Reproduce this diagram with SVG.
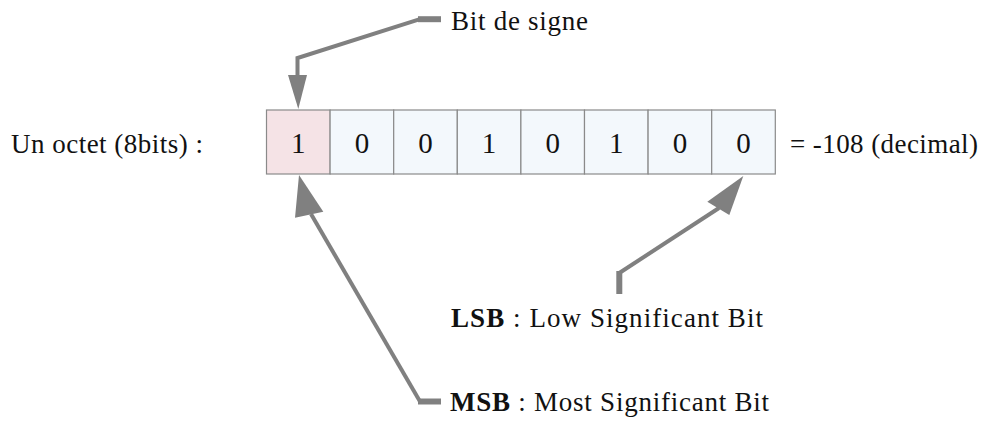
<svg xmlns="http://www.w3.org/2000/svg" width="982" height="421" viewBox="0 0 982 421">
  <style>
    .lbl { font-family: "Liberation Serif", "Times New Roman", serif; font-size: 27px; fill: #111; }
    .bit { font-family: "Liberation Serif", "Times New Roman", serif; font-size: 29px; fill: #111; text-anchor: middle; }
    .cell { fill: #f3f8fc; stroke: #8a8a8a; stroke-width: 1.2; }
    .sign { fill: #f5e3e6; }
    .wire { fill: none; stroke: #808080; stroke-width: 4; stroke-linejoin: miter; }
    .stub { fill: none; stroke: #808080; stroke-width: 6; }
    .head { fill: #808080; }
  </style>
  <rect width="982" height="421" fill="#ffffff"/>

  <!-- byte cells -->
  <g id="byte">
    <g id="bit7"><rect class="cell sign" x="266.5" y="110" width="63.6" height="64"/><text class="bit" x="298.3" y="153">1</text></g>
    <g id="bit6"><rect class="cell" x="330.1" y="110" width="63.6" height="64"/><text class="bit" x="361.9" y="153">0</text></g>
    <g id="bit5"><rect class="cell" x="393.7" y="110" width="63.6" height="64"/><text class="bit" x="425.5" y="153">0</text></g>
    <g id="bit4"><rect class="cell" x="457.3" y="110" width="63.6" height="64"/><text class="bit" x="489.1" y="153">1</text></g>
    <g id="bit3"><rect class="cell" x="520.9" y="110" width="63.6" height="64"/><text class="bit" x="552.7" y="153">0</text></g>
    <g id="bit2"><rect class="cell" x="584.5" y="110" width="63.6" height="64"/><text class="bit" x="616.3" y="153">1</text></g>
    <g id="bit1"><rect class="cell" x="648.1" y="110" width="63.6" height="64"/><text class="bit" x="679.9" y="153">0</text></g>
    <g id="bit0"><rect class="cell" x="711.7" y="110" width="63.6" height="64"/><text class="bit" x="743.5" y="153">0</text></g>
  </g>

  <!-- labels -->
  <g id="label-octet"><text class="lbl" x="11" y="152.7" textLength="192" lengthAdjust="spacing">Un octet (8bits) :</text></g>
  <g id="label-decimal"><text class="lbl" x="790" y="153.3" textLength="188" lengthAdjust="spacing">= -108 (decimal)</text></g>
  <g id="label-sign"><text class="lbl" x="451" y="30" textLength="137" lengthAdjust="spacing">Bit de signe</text></g>
  <g id="label-lsb"><text class="lbl" x="451" y="327" textLength="312" lengthAdjust="spacing"><tspan font-weight="bold">LSB</tspan> : Low Significant Bit</text></g>
  <g id="label-msb"><text class="lbl" x="450" y="411" textLength="319" lengthAdjust="spacing"><tspan font-weight="bold">MSB</tspan> : Most Significant Bit</text></g>

  <!-- connectors -->
  <g id="connectors">
    <!-- sign bit -->
    <path class="stub" d="M441,19.2 L418,19.2"/>
    <path class="wire" d="M420,19.2 L297.5,58 L297.5,76"/>
    <polygon class="head" points="288,75 307,75 298.3,109"/>
    <!-- MSB -->
    <path class="stub" d="M441,401.5 L418,401.5"/>
    <path class="wire" d="M420,401.5 L311,214"/>
    <polygon class="head" points="299,175 323.3,211.7 295,217.7"/>
    <!-- LSB -->
    <path class="stub" d="M619.3,294 L619.3,271"/>
    <path class="wire" d="M619.3,273 L719,208"/>
    <polygon class="head" points="743.3,176 729.3,215 707.3,201.7"/>
  </g>
</svg>
